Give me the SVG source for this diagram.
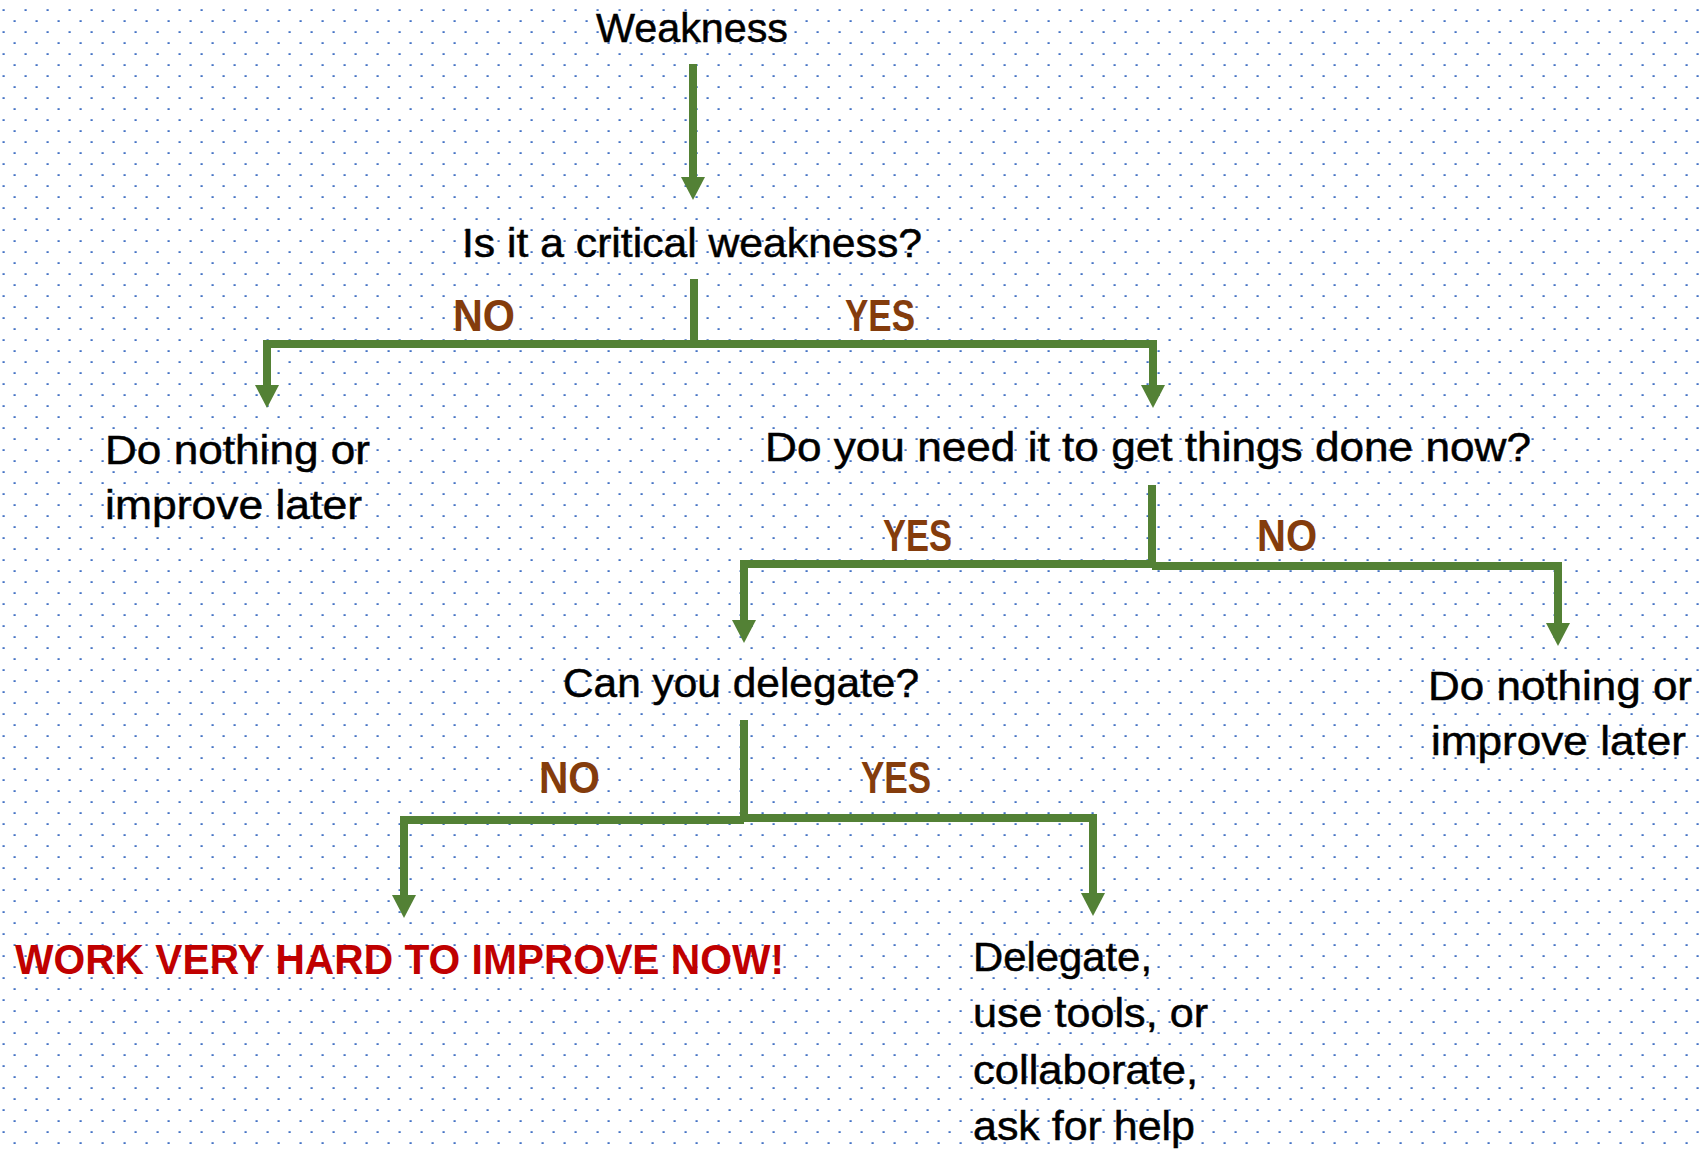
<svg xmlns="http://www.w3.org/2000/svg" width="1703" height="1151" viewBox="0 0 1703 1151">
  <style>
    .t { font-family: "Liberation Sans", Arial, sans-serif; font-size: 41px; fill: #000000; stroke: #000000; stroke-width: 0.5; }
    .lbl { font-family: "Liberation Sans", Arial, sans-serif; font-size: 44px; font-weight: bold; fill: #843C0C; }
    .hot { font-family: "Liberation Sans", Arial, sans-serif; font-size: 43px; font-weight: bold; fill: #C00000; }
    .c { fill: none; stroke: #538135; stroke-width: 8; stroke-linejoin: miter; }
  </style>
  <defs>
    <pattern id="dots" patternUnits="userSpaceOnUse" width="22" height="22">
      <rect x="2.5" y="9.2" width="2.2" height="1.8" fill="#4472C4"/>
      <rect x="13.5" y="20.2" width="2.2" height="1.8" fill="#4472C4"/>
    </pattern>
    <marker id="ah" markerUnits="userSpaceOnUse" viewBox="0 0 23 24" refX="0" refY="12" markerWidth="23" markerHeight="24" orient="auto">
      <path d="M0,0 L23,12 L0,24 Z" fill="#538135"/>
    </marker>
  </defs>
  <rect x="0" y="0" width="1703" height="1151" fill="#FFFFFF"/>
  <rect x="0" y="0" width="1703" height="1151" fill="url(#dots)"/>

  <g id="connectors">
    <path class="c" d="M693,64 V177" marker-end="url(#ah)"/>
    <path class="c" d="M694,279 V344"/>
    <path class="c" d="M694,344 H267 V385" marker-end="url(#ah)"/>
    <path class="c" d="M694,344 H1153 V385" marker-end="url(#ah)"/>
    <path class="c" d="M1152,485 V566"/>
    <path class="c" d="M1152,564 H744 V620" marker-end="url(#ah)"/>
    <path class="c" d="M1152,566 H1558 V623" marker-end="url(#ah)"/>
    <path class="c" d="M744,720 V820"/>
    <path class="c" d="M744,820 H404 V895" marker-end="url(#ah)"/>
    <path class="c" d="M744,818 H1093 V893" marker-end="url(#ah)"/>
  </g>

  <g id="labels">
    <text class="lbl" x="453" y="331" textLength="62" lengthAdjust="spacingAndGlyphs">NO</text>
    <text class="lbl" x="845" y="331" textLength="70" lengthAdjust="spacingAndGlyphs">YES</text>
    <text class="lbl" x="883" y="551" textLength="69" lengthAdjust="spacingAndGlyphs">YES</text>
    <text class="lbl" x="1257" y="551" textLength="60" lengthAdjust="spacingAndGlyphs">NO</text>
    <text class="lbl" x="539" y="793" textLength="61" lengthAdjust="spacingAndGlyphs">NO</text>
    <text class="lbl" x="861" y="793" textLength="70" lengthAdjust="spacingAndGlyphs">YES</text>
  </g>

  <g id="node-weakness">
    <text class="t" x="596" y="42" textLength="192" lengthAdjust="spacingAndGlyphs">Weakness</text>
  </g>
  <g id="node-critical">
    <text class="t" x="462" y="257" textLength="460" lengthAdjust="spacingAndGlyphs">Is it a critical weakness?</text>
  </g>
  <g id="node-nothing-1">
    <text class="t" x="105" y="464" textLength="265" lengthAdjust="spacingAndGlyphs">Do nothing or</text>
    <text class="t" x="105" y="519" textLength="257" lengthAdjust="spacingAndGlyphs">improve later</text>
  </g>
  <g id="node-need-now">
    <text class="t" x="765" y="461" textLength="766" lengthAdjust="spacingAndGlyphs">Do you need it to get things done now?</text>
  </g>
  <g id="node-delegate-q">
    <text class="t" x="563" y="697" textLength="356" lengthAdjust="spacingAndGlyphs">Can you delegate?</text>
  </g>
  <g id="node-nothing-2">
    <text class="t" x="1428" y="700" textLength="264" lengthAdjust="spacingAndGlyphs">Do nothing or</text>
    <text class="t" x="1431" y="755" textLength="255" lengthAdjust="spacingAndGlyphs">improve later</text>
  </g>
  <g id="node-work-hard">
    <text class="hot" x="15" y="974" textLength="769" lengthAdjust="spacingAndGlyphs">WORK VERY HARD TO IMPROVE NOW!</text>
  </g>
  <g id="node-delegate">
    <text class="t" x="973" y="971" textLength="179" lengthAdjust="spacingAndGlyphs">Delegate,</text>
    <text class="t" x="973" y="1027" textLength="235" lengthAdjust="spacingAndGlyphs">use tools, or</text>
    <text class="t" x="973" y="1084" textLength="225" lengthAdjust="spacingAndGlyphs">collaborate,</text>
    <text class="t" x="973" y="1140" textLength="222" lengthAdjust="spacingAndGlyphs">ask for help</text>
  </g>
</svg>
